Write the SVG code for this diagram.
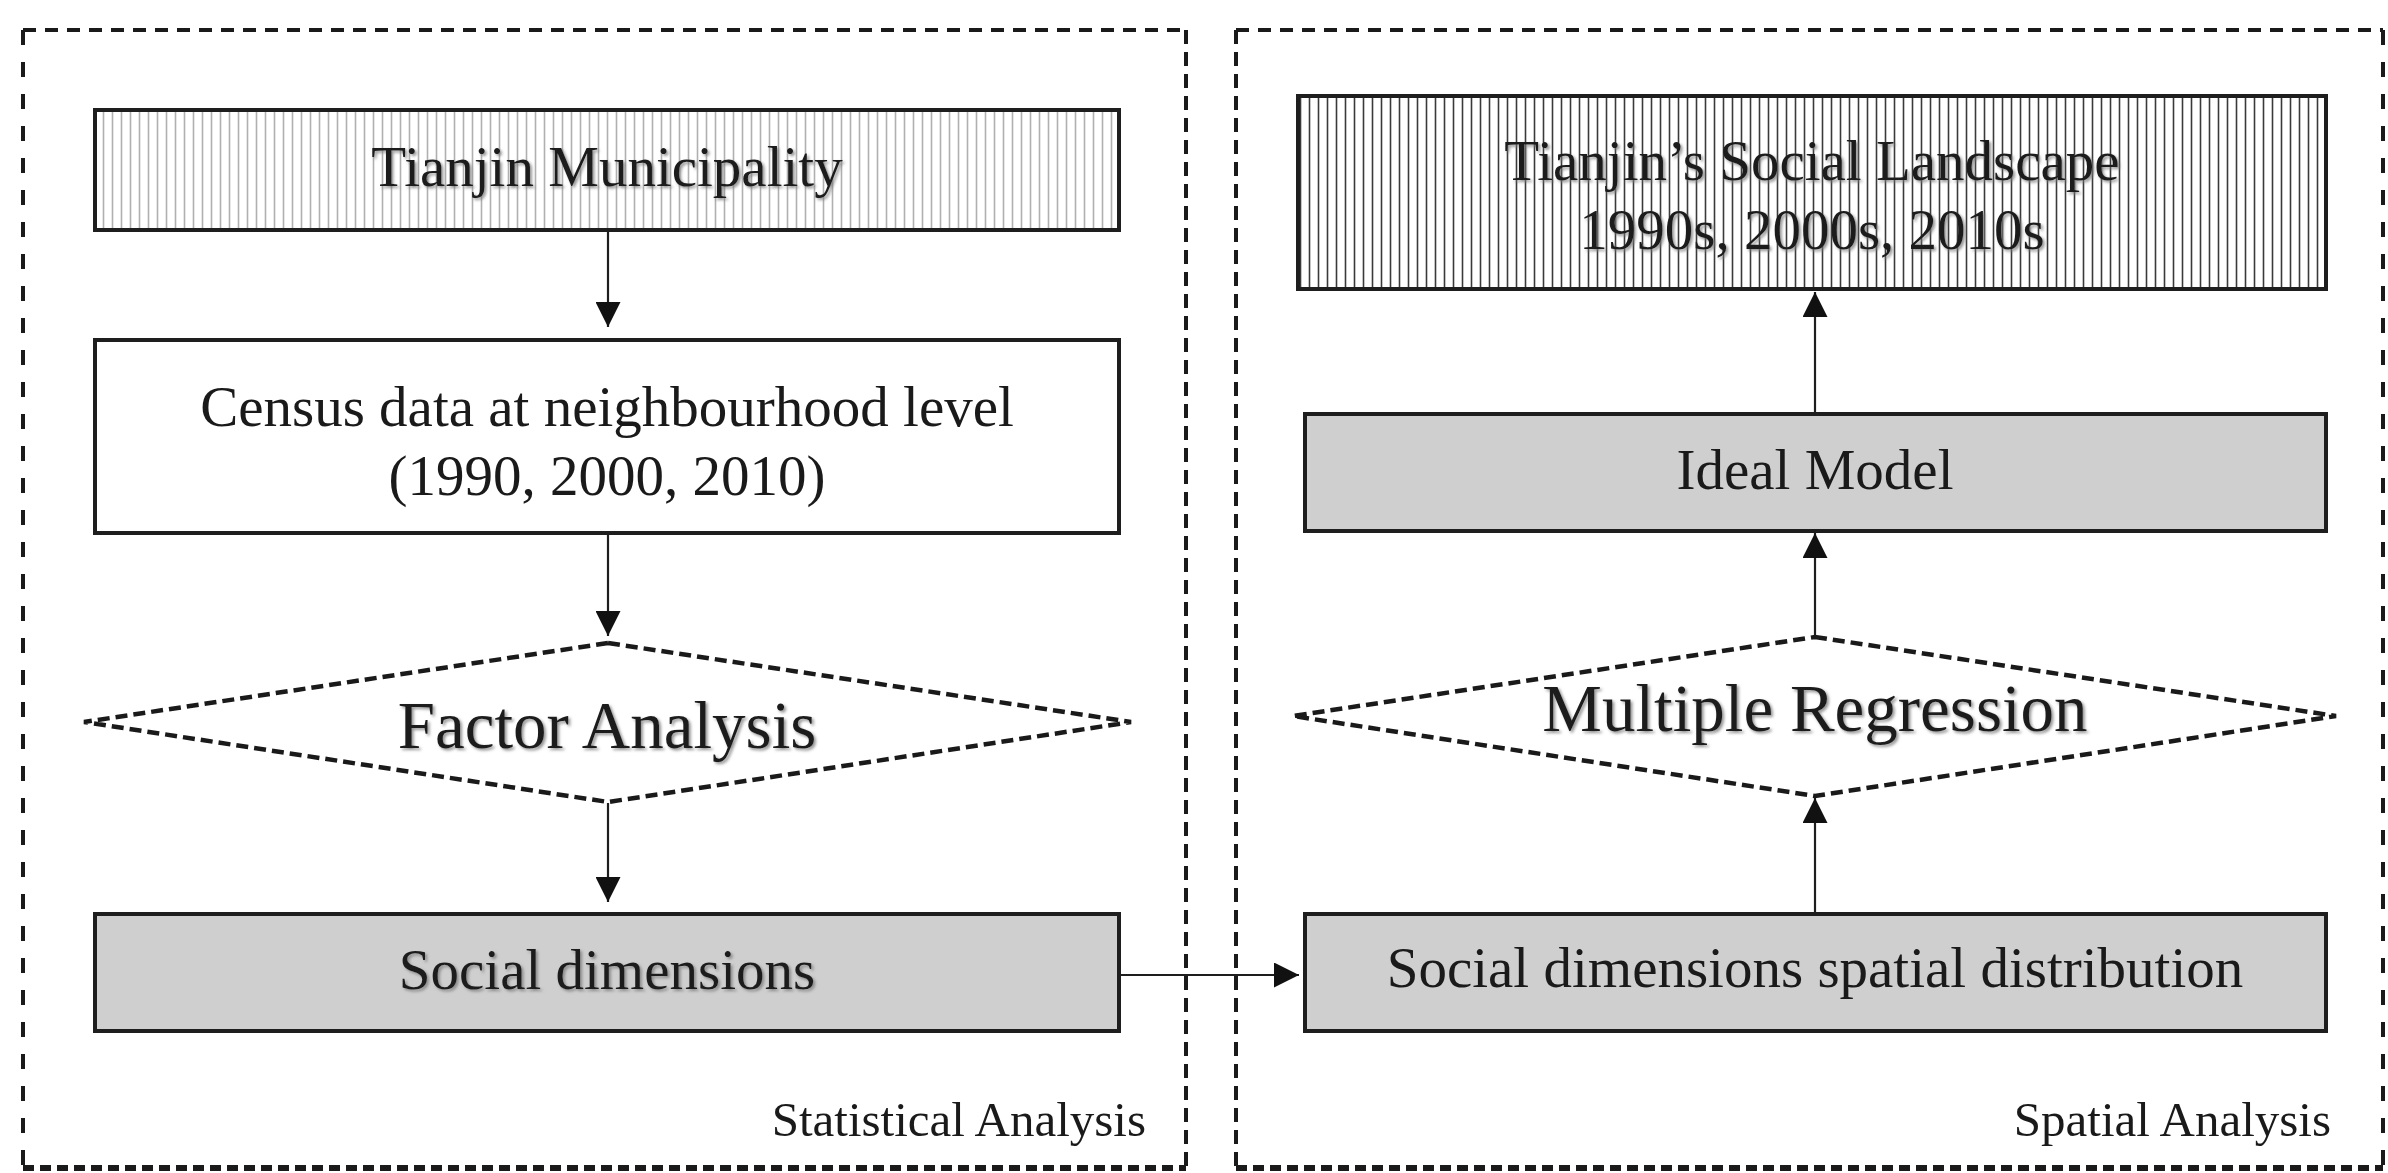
<svg xmlns="http://www.w3.org/2000/svg" width="2388" height="1173" viewBox="0 0 2388 1173">
<style>
.bg{fill:#fff}
.outer{fill:none;stroke:#1a1a1a;stroke-width:4;stroke-dasharray:15 17}
.inner{fill:none;stroke:#1a1a1a;stroke-width:4;stroke-dasharray:14 8}
.top{fill:none;stroke:#1a1a1a;stroke-width:4;stroke-dasharray:13 9}
.panelb{fill:none;stroke:#1a1a1a;stroke-width:6;stroke-dasharray:11 6}
.box{stroke:#1e1e1e;stroke-width:4}
.white{fill:#fff}
.grey{fill:#cfcfcf}
.hatchL{fill:url(#hatchLight)}
.hatchD{fill:url(#hatchDark)}
.dia{fill:#fff;stroke:#1a1a1a;stroke-width:4.5;stroke-dasharray:12 6}
.conn{stroke:#1e1e1e;stroke-width:2.2;fill:none;marker-end:url(#arr)}
text{font-family:"Liberation Serif","Times New Roman",serif;fill:#1a1a1a;text-anchor:middle}
.t57{font-size:57px}
.t67{font-size:67px}
.t49{font-size:49px;text-anchor:end}
.sh{filter:url(#shadow)}
</style>
<defs>
<filter id="shadow" x="-5%" y="-20%" width="110%" height="140%">
<feDropShadow dx="2" dy="2" stdDeviation="1.6" flood-color="#777" flood-opacity="0.8"/>
</filter>
<pattern id="hatchLight" patternUnits="userSpaceOnUse" width="9" height="10">
<rect width="9" height="10" fill="#fff"/>
<line x1="4.5" y1="0" x2="4.5" y2="10" stroke="#b0b0b0" stroke-width="1.6"/>
</pattern>
<pattern id="hatchDark" patternUnits="userSpaceOnUse" width="9" height="10">
<rect width="9" height="10" fill="#fff"/>
<line x1="4.5" y1="0" x2="4.5" y2="10" stroke="#3a3a3a" stroke-width="1.6"/>
</pattern>
<marker id="arr" viewBox="0 0 10 10" refX="10" refY="5" markerWidth="26" markerHeight="25" markerUnits="userSpaceOnUse" orient="auto">
<path d="M0,0 L10,5 L0,10 z" fill="#111"/>
</marker>
</defs>
<rect class="bg" x="0" y="0" width="2388" height="1173"/>

<g id="panel-statistical">
<line class="top" x1="23" y1="30" x2="1186" y2="30"/>
<line class="outer" x1="23" y1="30" x2="23" y2="1168"/>
<line class="inner" x1="1186" y1="30" x2="1186" y2="1168"/>
<line class="panelb" x1="23" y1="1168" x2="1186" y2="1168"/>
<text class="t49" x="1146" y="1136">Statistical Analysis</text>
</g>
<g id="panel-spatial">
<line class="top" x1="1236" y1="30" x2="2383" y2="30"/>
<line class="inner" x1="1236" y1="30" x2="1236" y2="1168"/>
<line class="outer" x1="2383" y1="30" x2="2383" y2="1168"/>
<line class="panelb" x1="1236" y1="1168" x2="2383" y2="1168"/>
<text class="t49" x="2331" y="1136">Spatial Analysis</text>
</g>

<g id="connectors">
<line class="conn" x1="608" y1="230" x2="608" y2="327"/>
<line class="conn" x1="608" y1="535" x2="608" y2="636"/>
<line class="conn" x1="608" y1="803" x2="608" y2="902"/>
<line class="conn" x1="1119" y1="975" x2="1299" y2="975"/>
<line class="conn" x1="1815" y1="914" x2="1815" y2="798"/>
<line class="conn" x1="1815" y1="637" x2="1815" y2="533"/>
<line class="conn" x1="1815" y1="414" x2="1815" y2="292"/>
</g>

<g id="node-tianjin">
<rect class="box hatchL" x="95" y="110" width="1024" height="120"/>
<text class="t57 sh" x="607" y="186">Tianjin Municipality</text>
</g>
<g id="node-census">
<rect class="box white" x="95" y="340" width="1024" height="193"/>
<text class="t57" x="607" y="426">Census data at neighbourhood level</text>
<text class="t57" x="607" y="495">(1990, 2000, 2010)</text>
</g>
<g id="node-factor">
<polygon class="dia" points="608,643 1131,722 608,802 84,722"/>
<text class="t67 sh" x="607" y="748">Factor Analysis</text>
</g>
<g id="node-social">
<rect class="box grey" x="95" y="914" width="1024" height="117"/>
<text class="t57 sh" x="607" y="989">Social dimensions</text>
</g>

<g id="node-landscape">
<rect class="box hatchD" x="1298" y="96" width="1028" height="193"/>
<text class="t57 sh" x="1812" y="180">Tianjin’s Social Landscape</text>
<text class="t57 sh" x="1812" y="249">1990s, 2000s, 2010s</text>
</g>
<g id="node-ideal">
<rect class="box grey" x="1305" y="414" width="1021" height="117"/>
<text class="t57" x="1815" y="489">Ideal Model</text>
</g>
<g id="node-regression">
<polygon class="dia" points="1815,637 2336,716 1815,796 1293,716"/>
<text class="t67 sh" x="1815" y="731">Multiple Regression</text>
</g>
<g id="node-spatial">
<rect class="box grey" x="1305" y="914" width="1021" height="117"/>
<text class="t57" x="1815" y="987">Social dimensions spatial distribution</text>
</g>
</svg>
